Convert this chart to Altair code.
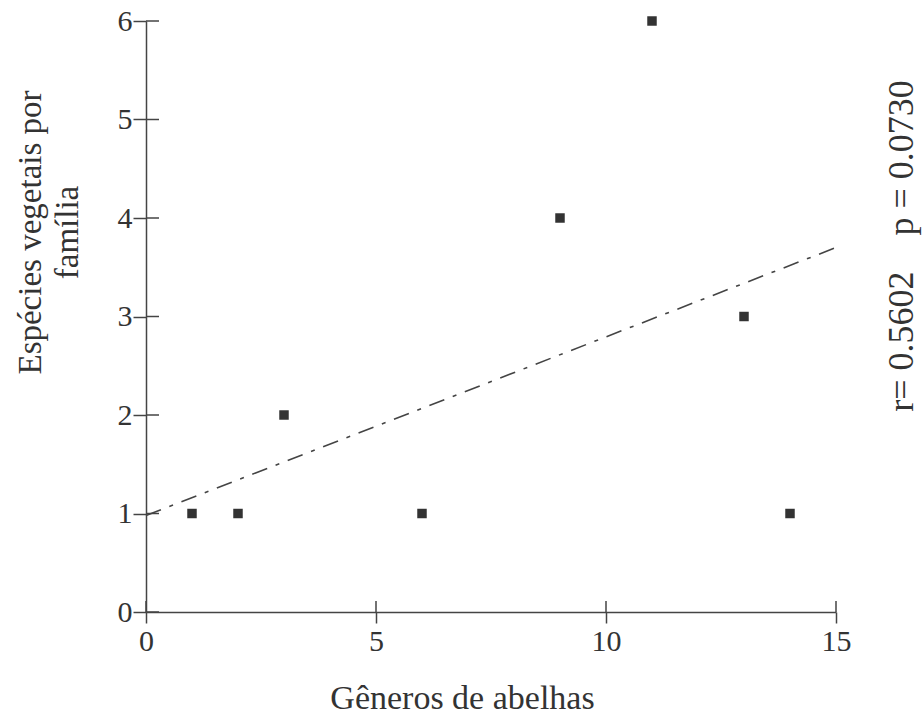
import altair as alt
import pandas as pd

# data
generos = [1, 2, 3, 6, 9, 11, 13, 14]
especies = [1, 1, 2, 1, 4, 6, 3, 1]
trend_x = [0, 15]
trend_y = [0.98, 3.70]
x_ticks = [0, 5, 10, 15]
y_ticks = [0, 1, 2, 3, 4, 5, 6]
note = ["r=\u00a00.5602\u00a0\u00a0\u00a0\u00a0p\u00a0=\u00a00.0730"]

pts = pd.DataFrame({"x": generos, "y": especies})
trend = pd.DataFrame({"x": trend_x, "y": trend_y})
xt = pd.DataFrame({"v": x_ticks})
yt = pd.DataFrame({"v": y_ticks})
nt = pd.DataFrame({"t": note})

FONT = "Liberation Serif"
AX = "#444444"
TX = "#333333"

xscale = alt.Scale(domain=[0, 15], nice=False, zero=False)
yscale = alt.Scale(domain=[0, 6], nice=False, zero=False)

xaxis = alt.Axis(values=x_ticks, format="d", title="Gêneros de abelhas", grid=False,
                 domainColor=AX, domainWidth=1.5, tickColor=AX, tickWidth=1.5, tickSize=11,
                 labelFont=FONT, labelFontSize=30, labelColor=TX, labelPadding=3, labelFlush=False,
                 titleFont=FONT, titleFontSize=34, titleFontWeight="normal", titleColor=TX,
                 titleX=316, titleY=86, titleBaseline="middle", titleAlign="center")
yaxis = alt.Axis(values=y_ticks, format="d", title=["Espécies vegetais por", "família"], grid=False,
                 domainColor=AX, domainWidth=1.5, tickColor=AX, tickWidth=1.5, tickSize=13,
                 labelFont=FONT, labelFontSize=30, labelColor=TX, labelPadding=1, labelFlush=False,
                 titleFont=FONT, titleFontSize=33, titleFontWeight="normal", titleColor=TX,
                 titleAngle=-90, titleX=-116, titleY=211, titleBaseline="middle",
                 titleAlign="center", titleLineHeight=37)

points = alt.Chart(pts).mark_point(shape="square", filled=True, size=90, color="#333333", opacity=1).encode(
    x=alt.X("x:Q", scale=xscale, axis=xaxis),
    y=alt.Y("y:Q", scale=yscale, axis=yaxis),
)

line = alt.Chart(trend).mark_line(color="#444444", strokeWidth=1.6, strokeDash=[16, 9, 4, 9]).encode(
    x=alt.X("x:Q", scale=xscale),
    y=alt.Y("y:Q", scale=yscale),
)

# inward halves of the crossing ticks
xin = alt.Chart(xt).mark_rule(color=AX, strokeWidth=1.5).encode(
    x=alt.X("v:Q", scale=xscale), y=alt.value(591), y2=alt.value(580)
)
yin = alt.Chart(yt).mark_rule(color=AX, strokeWidth=1.5).encode(
    y=alt.Y("v:Q", scale=yscale), x=alt.value(0), x2=alt.value(13)
)

txt = alt.Chart(nt).mark_text(font=FONT, fontSize=36, color=TX, angle=270,
                              align="center", baseline="alphabetic").encode(
    text="t:N", x=alt.value(767), y=alt.value(225)
)

chart = alt.layer(xin, yin, line, points, txt).properties(
    width=690, height=591,
    autosize=alt.AutoSizeParams(type="none"),
    padding={"left": 146, "top": 21, "right": 88, "bottom": 110},
    background="white",
).configure_view(strokeWidth=0)

chart.save("out.html", embed_options={"renderer": "svg", "actions": False})
